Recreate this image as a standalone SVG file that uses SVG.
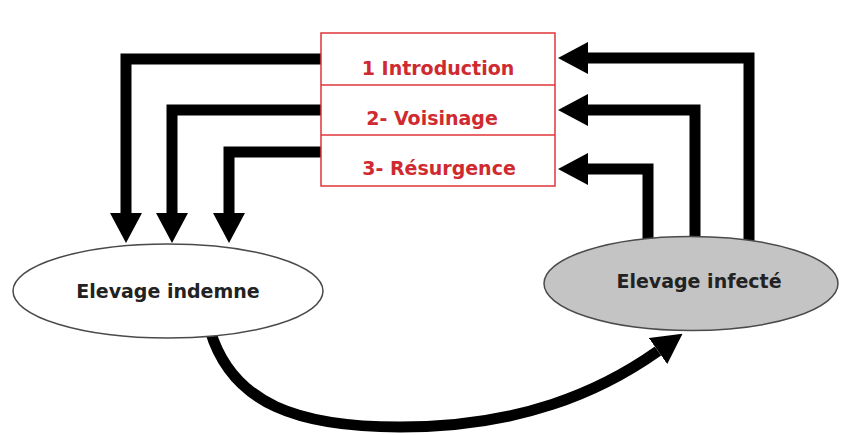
<svg xmlns="http://www.w3.org/2000/svg" width="843" height="435" viewBox="0 0 843 435">
<style>
.bg{fill:#ffffff}
.conn{fill:none;stroke:#000;stroke-width:11;stroke-linejoin:miter}
.box{fill:#fff;stroke:#e0353a;stroke-width:1.5}
.div{stroke:#e0353a;stroke-width:1.5}
.red{font-family:"DejaVu Sans",Verdana,sans-serif;font-weight:bold;font-size:19px;fill:#cf2a30;text-anchor:middle}
.lbl{font-family:"DejaVu Sans",Verdana,sans-serif;font-weight:bold;font-size:19px;fill:#222;text-anchor:middle}
.ell{stroke:#4a4a4a;stroke-width:1.5}
</style>
<defs>
<marker id="ah" markerUnits="userSpaceOnUse" viewBox="0 0 30 32" markerWidth="30" markerHeight="32" refX="0" refY="16" orient="auto">
<path d="M0,0 L30,16 L0,32 z" fill="#000"/>
</marker>
</defs>
<rect class="bg" x="0" y="0" width="843" height="435"/>
<g id="connectors">
<path class="conn" d="M321,59 H126 V213" marker-end="url(#ah)"/>
<path class="conn" d="M321,110 H172 V213" marker-end="url(#ah)"/>
<path class="conn" d="M321,152 H229 V213" marker-end="url(#ah)"/>
<path class="conn" d="M749,250 V58 H588" marker-end="url(#ah)"/>
<path class="conn" d="M695,250 V110 H588" marker-end="url(#ah)"/>
<path class="conn" d="M648,250 V169 H588" marker-end="url(#ah)"/>
<path class="conn" d="M210,330 C232,405 300,427 400,427 C520,427 600,392 658,351" marker-end="url(#ah)"/>
</g>
<g id="mechanisms">
<rect class="box" x="321" y="33" width="234" height="153"/>
<line class="div" x1="321" y1="85" x2="555" y2="85"/>
<line class="div" x1="321" y1="135" x2="555" y2="135"/>
<text class="red" x="438" y="75">1 Introduction</text>
<text class="red" x="432" y="125">2- Voisinage</text>
<text class="red" x="439" y="175">3- Résurgence</text>
</g>
<g id="elevage-indemne">
<ellipse class="ell" cx="168" cy="291" rx="155" ry="47" fill="#ffffff"/>
<text class="lbl" x="168" y="298">Elevage indemne</text>
</g>
<g id="elevage-infecte">
<ellipse class="ell" cx="691" cy="283.5" rx="147" ry="47" fill="#c4c4c4"/>
<text class="lbl" x="699" y="288">Elevage infecté</text>
</g>
</svg>
